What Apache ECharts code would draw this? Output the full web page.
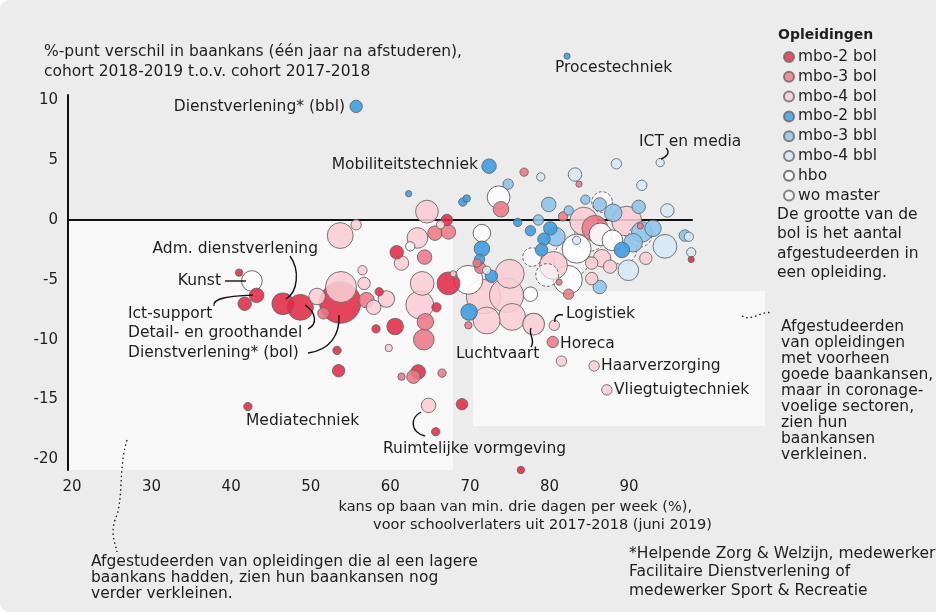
<!DOCTYPE html>
<html>
<head>
<meta charset="utf-8">
<script src="https://cdn.jsdelivr.net/npm/echarts@6/dist/echarts.min.js"></script>
<style>
html,body{margin:0;padding:0;background:#ffffff;}
#chart{width:936px;height:615px;}
</style>
</head>
<body>
<div id="chart"></div>
<script>
// ---------------- DATA ----------------
// each point: [kans op baan (%), verschil in baankans (%-punt), aantal afgestudeerden]
var mbo2Bol = [
  [41.0,-4.4,140],[43.2,-6.3,545],[41.7,-7.0,470],[46.5,-7.0,1225],[48.7,-7.3,1740],
  [53.7,-6.9,4450],[58.6,-6.0,180],[60.6,-8.9,710],[58.2,-9.1,180],[53.3,-10.9,180],
  [53.5,-12.6,400],[60.8,-2.7,470],[67.1,0.0,340],[67.3,-5.3,1345],[65.8,-7.3,225],
  [63.5,-12.7,545],[42.1,-15.6,180],[69.0,-15.4,340],[65.7,-17.7,180],[76.4,-20.9,140],
  [97.8,-3.3,100]
];
var mbo3Bol = [
  [76.8,4.0,180],[73.9,0.9,625],[83.7,3.0,100],[81.7,0.3,225],[85.7,-0.7,1740],
  [65.6,-1.1,545],[67.3,-1.0,545],[64.3,-3.1,545],[70.9,-3.6,180],[71.3,-4.0,340],
  [69.8,-8.8,140],[82.4,-6.2,280],[80.4,-10.2,340],[57.0,-6.7,625],[51.6,-7.8,340],
  [64.4,-8.5,710],[64.2,-10.0,1110],[62.9,-13.1,470],[61.4,-13.1,140],[66.5,-12.8,180],
  [68.0,-4.6,100],[81.2,-5.2,100],[91.4,-0.5,100]
];
var mbo4Bol = [
  [64.6,0.7,1345],[53.7,-1.3,1740],[55.7,-0.4,280],[63.4,-1.5,1110],[61.4,-3.6,545],
  [56.5,-4.2,225],[56.7,-5.3,400],[59.5,-6.6,710],[57.9,-7.3,545],[50.8,-6.4,710],
  [53.8,-5.6,2500],[59.8,-10.7,140],[64.0,-5.3,1470],[63.7,-7.1,2025],[67.9,-4.5,100],
  [71.7,-6.4,3025],[74.6,-6.3,3025],[75.0,-4.5,2180],[75.3,-8.1,1880],[72.1,-8.4,1880],
  [78.0,-8.7,1225],[80.6,-8.8,280],[81.5,-11.8,280],[85.6,-12.2,280],[87.2,-14.2,280],
  [64.8,-15.5,545],[80.5,-3.8,2025],[84.3,-0.1,2025],[89.7,-0.1,2335],[92.1,-3.2,400],
  [85.3,-3.6,400],[87.6,-3.9,470],[86.6,-3.2,800],[85.3,-4.9,400],[66.3,-0.4,180]
];
var mbo2Bbl = [
  [82.2,13.7,100],[55.7,9.5,400],[72.4,4.5,545],[62.3,2.2,100],[69.1,1.5,180],
  [69.6,1.8,140],[76.0,-0.2,180],[77.6,-0.9,280],[71.5,-2.4,625],[71.2,-3.3,280],
  [72.7,-4.7,400],[69.9,-7.7,710],[80.1,-0.7,470],[79.3,-1.6,400],[79.0,-2.5,400],
  [89.1,-2.5,625]
];
var mbo3Bbl = [
  [74.8,3.0,280],[79.9,1.3,545],[78.6,0.0,280],[80.8,-1.4,900],[84.5,1.7,225],
  [86.3,1.3,470],[88.0,0.6,800],[91.2,1.1,470],[91.6,-1.0,1110],[90.5,-1.9,900],
  [97.0,-1.3,340],[86.3,-5.6,470],[82.4,0.8,225],[93.0,-0.7,700]
];
var mbo4Bbl = [
  [93.9,4.8,180],[78.9,3.6,180],[83.2,3.8,470],[88.4,4.7,280],[91.6,2.9,280],
  [94.8,0.8,470],[94.5,-2.2,1470],[97.8,-2.7,225],[89.9,-4.2,1110],[83.4,-1.7,180],
  [97.5,-1.4,225],[72.1,-4.2,180]
];
var hbo = [
  [42.6,-5.1,1110],[73.6,1.9,1345],[71.5,-1.1,800],[69.8,-5.0,2180],[77.6,-6.2,545],
  [82.3,-5.0,2180],[83.4,-2.4,2180],[62.5,-2.2,225],[87.9,-1.7,1110],[86.4,-1.2,1345]
];
var woMaster = [
  [86.6,1.5,1110],[77.8,-3.1,900],[79.7,-4.6,1345],[85.1,-1.3,2500],[89.1,-2.5,2180],
  [82.8,-3.2,3400],[91.4,-1.3,1345]
];
var seriesNames = ['mbo-2 bol','mbo-3 bol','mbo-4 bol','mbo-2 bbl','mbo-3 bbl','mbo-4 bbl','hbo','wo master'];
var xTicks = [20,30,40,50,60,70,80,90];
var yTicks = [-20,-15,-10,-5,0,5,10];

// ---------------- STYLE ----------------
var FONT = '"DejaVu Sans", sans-serif';
var FS = 15.5;
var TXT = '#1e1e1e';
var groups = [mbo2Bol, mbo3Bol, mbo4Bol, mbo2Bbl, mbo3Bbl, mbo4Bbl, hbo, woMaster];
var fills = ['#e32a47','#ec7886','#f8cdd4','#3a9ce0','#8cc4ec','#d6e9f7','#ffffff','rgba(255,255,255,0.55)'];
var borders = ['#666','#666','#666','#666','#666','#666','#555','#666'];

var all = [];
groups.forEach(function(g, gi){
  g.forEach(function(p){
    all.push({
      value: p,
      name: seriesNames[gi],
      itemStyle: {
        color: fills[gi], borderColor: borders[gi], borderWidth: 1,
        borderType: gi === 7 ? [3,2] : 'solid',
        opacity: gi === 7 ? 1 : 0.88
      }
    });
  });
});
all.sort(function(a,b){ return b.value[2] - a.value[2]; });

var series = [{
  type: 'scatter', name: 'all', data: all, clip: false,
  symbolSize: function(d){ return 0.62 * Math.sqrt(d[2]); },
  emphasis: {disabled: true}, z: 5
}];
seriesNames.forEach(function(n, i){
  series.push({
    type: 'scatter', name: n, data: [],
    itemStyle: {color: fills[i], borderColor: borders[i], borderWidth: 1,
      borderType: i === 7 ? [2,2] : 'solid'}
  });
});

function txt(text, x, y, align, extra){
  var s = {text: text, x: x, y: y, align: align || 'left', verticalAlign: 'middle',
    font: FS + 'px ' + FONT, fill: TXT};
  if (extra) for (var k in extra) s[k] = extra[k];
  return {type: 'text', z: 100, silent: true, style: s};
}
function curve(x1,y1,cx1,cy1,cx2,cy2,x2,y2,dash){
  return {type: 'bezierCurve', z: 100, silent: true,
    shape: {x1:x1,y1:y1,cpx1:cx1,cpy1:cy1,cpx2:cx2,cpy2:cy2,x2:x2,y2:y2},
    style: {stroke: '#111', lineWidth: dash ? 1.3 : 1.4, fill: null, lineDash: dash ? [1.5,3] : null}};
}

var graphics = [
  {type:'rect', z:-100, silent:true, shape:{x:0,y:0,width:945,height:612,r:9}, style:{fill:'#ececec'}},
  {type:'rect', z:-90, silent:true, shape:{x:69,y:220,width:384,height:250}, style:{fill:'#f8f8f8'}},
  {type:'rect', z:-90, silent:true, shape:{x:473,y:291,width:292,height:135}, style:{fill:'#f8f8f8'}},
  txt('%-punt verschil in baankans (één jaar na afstuderen),\ncohort 2018-2019 t.o.v. cohort 2017-2018', 44, 62, 'left', {lineHeight: 20}),
  txt('kans op baan van min. drie dagen per week (%),', 692, 507, 'right', {font: '14.5px ' + FONT}),
  txt('voor schoolverlaters uit 2017-2018 (juni 2019)', 712, 525, 'right', {font: '14.5px ' + FONT}),
  txt('Opleidingen', 778, 35, 'left', {font: 'bold 14px ' + FONT}),
  txt('De grootte van de\nbol is het aantal\nafgestudeerden in\neen opleiding.', 777, 244, 'left', {lineHeight: 19.5}),
  txt('Afgestudeerden\nvan opleidingen\nmet voorheen\ngoede baankansen,\nmaar in coronage-\nvoelige sectoren,\nzien hun\nbaankansen\nverkleinen.', 781, 391, 'left', {lineHeight: 16}),
  txt('Afgestudeerden van opleidingen die al een lagere\nbaankans hadden, zien hun baankansen nog\nverder verkleinen.', 91, 578, 'left', {lineHeight: 16}),
  txt('*Helpende Zorg & Welzijn, medewerker\nFacilitaire Dienstverlening of\nmedewerker Sport & Recreatie', 629, 572, 'left', {lineHeight: 18.5}),
  // point labels
  txt('Procestechniek', 555, 68, 'left'),
  txt('Dienstverlening* (bbl)', 345, 107, 'right'),
  txt('ICT en media', 639, 142, 'left'),
  txt('Mobiliteitstechniek', 478, 165, 'right'),
  txt('Adm. dienstverlening', 318, 249, 'right'),
  txt('Kunst', 221, 281, 'right'),
  txt('Ict-support', 128, 314, 'left'),
  txt('Detail- en groothandel', 128, 333, 'left'),
  txt('Dienstverlening* (bol)', 128, 353, 'left'),
  txt('Mediatechniek', 246, 421, 'left'),
  txt('Ruimtelijke vormgeving', 383, 449, 'left'),
  txt('Luchtvaart', 456, 354, 'left'),
  txt('Logistiek', 566, 314, 'left'),
  txt('Horeca', 560, 344, 'left'),
  txt('Haarverzorging', 601, 366, 'left'),
  txt('Vliegtuigtechniek', 614, 390, 'left'),
  // leader lines
  curve(666,148, 670,152, 668,156, 661,159),
  curve(290,256, 300,270, 298,292, 286,299),
  {type:'polyline', z:100, silent:true, shape:{points:[[225,281],[246,281]]}, style:{stroke:'#111', lineWidth:1.4}},
  curve(214,306, 212,296, 240,296, 253,295),
  curve(308,329, 318,324, 316,312, 305,305),
  curve(308,353, 330,350, 340,335, 339,315),
  curve(421,412, 410,418, 410,432, 425,436),
  curve(531,328, 528,335, 536,340, 531,347),
  curve(555,322, 554,316, 558,314, 563,315),
  // dotted annotation lines
  curve(742,316, 752,322, 762,310, 772,313, true),
  curve(127,440, 118,470, 124,500, 115,520, true),
  curve(115,520, 110,535, 116,545, 117,552, true)
];

var option = {
  animation: false,
  textStyle: {fontFamily: FONT},
  grid: {left: 68, top: 95, width: 624, height: 375, containLabel: false},
  xAxis: {
    type: 'value', min: 19.5, max: 97.9,
    axisLine: {show: true, lineStyle: {color: '#111', width: 2}},
    axisTick: {show: false},
    splitLine: {show: false},
    axisLabel: {customValues: xTicks, fontSize: 15, color: TXT, margin: 10, fontFamily: FONT}
  },
  yAxis: {
    type: 'value', min: -20.9, max: 10.45,
    axisLine: {show: true, lineStyle: {color: '#111', width: 2}},
    axisTick: {show: false},
    splitLine: {show: false},
    axisLabel: {customValues: yTicks, fontSize: 15, color: TXT, margin: 10, fontFamily: FONT}
  },
  legend: {
    data: seriesNames, orient: 'vertical', left: 778, top: 44,
    itemWidth: 10, itemHeight: 10, itemGap: 3.8, icon: 'circle',
    textStyle: {fontSize: FS, color: TXT, fontFamily: FONT, padding: [0,0,0,-1]},
    selectedMode: false
  },
  graphic: graphics,
  series: series
};

var chart = echarts.init(document.getElementById('chart'), null, {renderer: 'canvas'});
chart.setOption(option);
</script>
</body>
</html>
